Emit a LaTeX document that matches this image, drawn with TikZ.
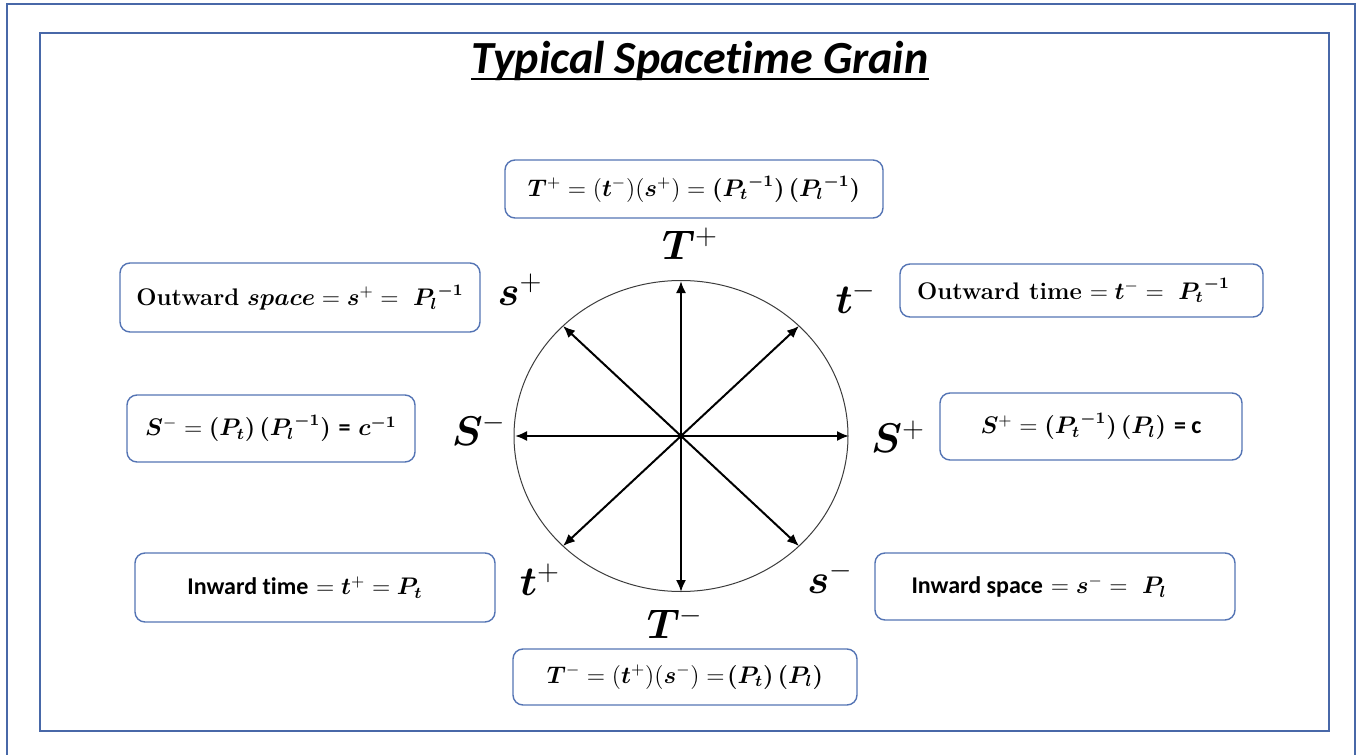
\documentclass[tikz,border=0pt]{standalone}
\usepackage{fontspec}
\usepackage{amsmath, bm}
\usepackage{tikz}
\usetikzlibrary{arrows.meta}
\newfontfamily\carlito[Ligatures=NoCommon]{Carlito}
\definecolor{framecol}{RGB}{72,104,168}
\definecolor{boxcol}{RGB}{84,116,180}
\definecolor{rimcol}{RGB}{60,60,60}

\begin{document}
\begin{tikzpicture}[x=0.5pt, y=-0.5pt,
  infobox/.style={draw=boxcol, line width=0.7pt, rounded corners=5pt, inner sep=0pt, font=\fontsize{12}{14}\selectfont},
  dirlabel/.style={font=\fontsize{20.74}{24}\selectfont},
  ray/.style={line width=1pt, -{Latex[length=6pt, width=5pt]}}]
  \useasboundingbox (0,0) rectangle (1367,755);

  % Frames
  \draw[framecol, line width=0.8pt] (7,760) -- (7,4) -- (1355,4) -- (1355,760);
  \draw[framecol, line width=1pt] (40,33) rectangle (1329,731);

  % Title
  \node[font=\carlito\bfseries\itshape\fontsize{23}{27}\selectfont, anchor=base, inner sep=0pt] (title) at (700,73) {Typical Spacet\kern0pt ime Grain};
  \draw[line width=1pt] ([yshift=-3pt]title.base west) -- ([yshift=-3pt]title.base east);

  % Grain circle
  \coordinate (O) at (681,436);
  \draw[rimcol, line width=0.5pt] (O) ellipse [x radius=167, y radius=155.5];

  % Ray end points
  \coordinate (Tp) at (681,281);
  \coordinate (Tm) at (681,592);
  \coordinate (Sp) at (849,436);
  \coordinate (Sm) at (515,436);
  \coordinate (tm) at (799,326);
  \coordinate (sp) at (563,326);
  \coordinate (tp) at (563,546);
  \coordinate (sm) at (799,546);

  % Rays
  \draw[ray] (O) -- (Tp);
  \draw[ray] (O) -- (Tm);
  \draw[ray] (O) -- (Sp);
  \draw[ray] (O) -- (Sm);
  \draw[ray] (O) -- (tm);
  \draw[ray] (O) -- (sp);
  \draw[ray] (O) -- (tp);
  \draw[ray] (O) -- (sm);

  % Direction labels
  \node[dirlabel] (lTp) at (690,244) {$\bm{T}^{+}$};
  \node[dirlabel] (lTm) at (675,623) {$\bm{T}^{-}$};
  \node[dirlabel] (lSp) at (898,437) {$\bm{S}^{+}$};
  \node[dirlabel] (lSm) at (479,430) {$\bm{S}^{-}$};
  \node[dirlabel] (ltm) at (856,298) {$\bm{t}^{-}$};
  \node[dirlabel] (lsp) at (520,290) {$\bm{s}^{+}$};
  \node[dirlabel] (ltp) at (540,580) {$\bm{t}^{+}$};
  \node[dirlabel] (lsm) at (830,578) {$\bm{s}^{-}$};

  % Boxes
  \node[infobox, minimum width=189pt, minimum height=29pt] (bTp) at (694,189)
    {$\bm{T}^{+} = (\bm{t}^{-})(\bm{s}^{+}) = \bm{(}{\bm{P_t}}^{\bm{-1}}\bm{)}\,\bm{(}{\bm{P_l}}^{\bm{-1}}\bm{)}$};
  \node[infobox, minimum width=180pt, minimum height=34.5pt] (bsp) at (300,297.5)
    {\textbf{Outward} $\bm{space} = \bm{s}^{+} =\ {\bm{P_l}}^{\bm{-1}}$};
  \node[infobox, minimum width=181.5pt, minimum height=26.5pt] (btm) at (1081.5,290.5)
    {\hspace*{-8pt}\textbf{Outward time} $= \bm{t}^{-} =\ {\bm{P_t}}^{\bm{-1}}$};
  \node[infobox, minimum width=144pt, minimum height=33.5pt] (bSm) at (271,428.5)
    {$\bm{S}^{-} = \bm{(P_t)}\,\bm{(}{\bm{P_l}}^{\bm{-1}}\bm{)}$ {\carlito\bfseries =} $\bm{c}^{\bm{-1}}$};
  \node[infobox, minimum width=151pt, minimum height=33.5pt] (bSp) at (1091,426.5)
    {$\bm{S}^{+} = \bm{(}{\bm{P_t}}^{\bm{-1}}\bm{)}\,\bm{(P_l)}$ {\carlito\bfseries = c}};
  \node[infobox, minimum width=180pt, minimum height=34.5pt] (btp) at (315,587.5)
    {\hspace*{-10pt}{\carlito\bfseries Inward time} $= \bm{t}^{+} = \bm{P_t}$};
  \node[infobox, minimum width=180pt, minimum height=33.5pt] (bsm) at (1055,586.5)
    {\hspace*{-16pt}{\carlito\bfseries Inward space} $= \bm{s}^{-} =\ \bm{P_l}$};
  \node[infobox, minimum width=172pt, minimum height=28pt] (bTm) at (685,677)
    {$\bm{T}^{-} = (\bm{t}^{+})(\bm{s}^{-}) =\!\bm{(P_t)}\,\bm{(P_l)}$};
\end{tikzpicture}
\end{document}
